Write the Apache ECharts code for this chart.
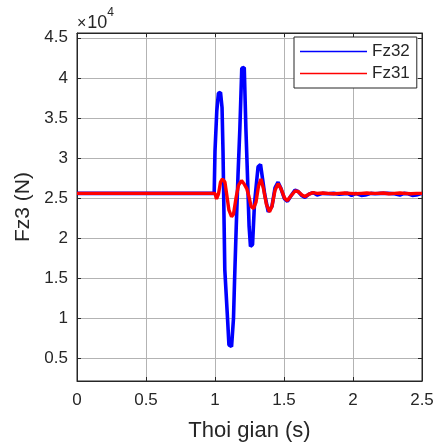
<!DOCTYPE html>
<html>
<head>
<meta charset="utf-8">
<script src="https://cdn.jsdelivr.net/npm/echarts@6/dist/echarts.min.js"></script>
<style>
  html, body { margin: 0; padding: 0; background: #fff; }
  #chart { width: 440px; height: 447px; }
</style>
</head>
<body>
<div id="chart"></div>
<script>
// Vertical wheel force on axle 3 (N) versus time (s)
const timeFz32 = [0, 0.994, 1.000, 1.013, 1.025, 1.040, 1.051, 1.058, 1.071, 1.091, 1.101, 1.120, 1.134, 1.142, 1.154, 1.167, 1.180, 1.194, 1.212, 1.224, 1.235, 1.247, 1.257, 1.272, 1.286, 1.312, 1.330, 1.344, 1.360, 1.386, 1.413, 1.435, 1.457, 1.478, 1.504, 1.525, 1.551, 1.580, 1.601, 1.630, 1.652, 1.681, 1.710, 1.74, 1.78, 1.82, 1.86, 1.90, 1.96, 1.99, 2.02, 2.06, 2.09, 2.13, 2.16, 2.20, 2.25, 2.30, 2.34, 2.37, 2.40, 2.43, 2.46, 2.50];
const valFz32 = [25600, 25600, 30900, 35900, 38100, 38200, 36300, 30900, 16100, 9950, 6700, 6500, 10000, 14900, 21500, 28000, 33600, 41200, 41300, 33600, 28000, 21500, 19000, 19200, 24300, 28900, 29200, 27500, 25500, 23300, 24000, 26300, 27000, 26200, 24900, 24600, 25300, 26000, 25850, 25300, 25100, 25500, 25700, 25400, 25600, 25550, 25600, 25500, 25600, 25350, 25600, 25350, 25400, 25600, 25550, 25600, 25600, 25550, 25400, 25600, 25550, 25350, 25400, 25600];

const timeFz31 = [0, 1.000, 1.011, 1.025, 1.040, 1.054, 1.072, 1.087, 1.101, 1.120, 1.134, 1.152, 1.170, 1.192, 1.210, 1.230, 1.246, 1.261, 1.279, 1.297, 1.315, 1.333, 1.351, 1.373, 1.395, 1.413, 1.435, 1.457, 1.478, 1.504, 1.525, 1.551, 1.580, 1.601, 1.630, 1.652, 1.681, 1.710, 1.74, 1.78, 1.82, 1.86, 1.90, 1.94, 1.98, 2.02, 2.06, 2.10, 2.14, 2.18, 2.22, 2.26, 2.30, 2.34, 2.38, 2.42, 2.46, 2.50];
const valFz31 = [25600, 25600, 24900, 25500, 27000, 27400, 27000, 25200, 23500, 22700, 23000, 25000, 26600, 27200, 26800, 26200, 25200, 24000, 23700, 24500, 26500, 27400, 26200, 24200, 23300, 24000, 26000, 26800, 26200, 25000, 24700, 25300, 25900, 25850, 25400, 25200, 25500, 25700, 25600, 25650, 25600, 25550, 25600, 25650, 25600, 25550, 25600, 25650, 25600, 25600, 25650, 25550, 25600, 25650, 25600, 25550, 25600, 25600];

const xTicks = [0, 0.5, 1, 1.5, 2, 2.5];
const yTicks = [5000, 10000, 15000, 20000, 25000, 30000, 35000, 40000, 45000];
const yMin = 2200;
const yMax = 45600;
const seriesNames = ['Fz32', 'Fz31'];

const textColor = '#262626';
const gridColor = '#b3b3b3';
const fontFamily = '"Liberation Sans", Arial, Helvetica, sans-serif';

const pairs = (ts, vs) => ts.map((t, i) => [t, vs[i]]);

const chart = echarts.init(document.getElementById('chart'), null, { renderer: 'canvas' });

const gridBox = { left: 77, right: 18, top: 33, bottom: 62 };

chart.setOption({
  animation: false,
  backgroundColor: '#fff',
  textStyle: { fontFamily: fontFamily, color: textColor },
  grid: Object.assign({ show: true, borderColor: textColor, borderWidth: 1, backgroundColor: '#fff', containLabel: false }, gridBox),
  legend: {
    show: true,
    data: seriesNames,
    orient: 'vertical',
    left: 294,
    top: 37,
    icon: 'rect',
    itemWidth: 67,
    itemHeight: 1.5,
    itemGap: 5,
    padding: [6, 7, 6, 6],
    backgroundColor: '#fff',
    borderColor: textColor,
    borderWidth: 1,
    borderRadius: 0,
    textStyle: { fontFamily: fontFamily, fontSize: 17, color: textColor, lineHeight: 17 }
  },
  xAxis: [
    {
      type: 'value',
      min: 0,
      max: 2.5,
      interval: 0.5,
      name: 'Thoi gian (s)',
      nameLocation: 'middle',
      nameGap: 39,
      nameTextStyle: { fontFamily: fontFamily, fontSize: 22, color: textColor },
      axisLine: { show: true, onZero: false, lineStyle: { color: textColor, width: 1 } },
      axisTick: { show: true, inside: true, length: 4, lineStyle: { color: textColor } },
      axisLabel: {
        show: true, margin: 11, fontSize: 17, color: textColor, fontFamily: fontFamily,
        formatter: v => String(v)
      },
      splitLine: { show: true, lineStyle: { color: gridColor, width: 1 } }
    },
    {
      type: 'value',
      position: 'top',
      min: 0,
      max: 2.5,
      interval: 0.5,
      axisLine: { show: true, onZero: false, lineStyle: { color: textColor, width: 1 } },
      axisTick: { show: true, inside: true, length: 4, lineStyle: { color: textColor } },
      axisLabel: { show: false },
      splitLine: { show: false }
    }
  ],
  yAxis: [
    {
      type: 'value',
      min: yMin,
      max: yMax,
      name: 'Fz3 (N)',
      nameLocation: 'middle',
      nameGap: 39,
      nameRotate: 90,
      nameTextStyle: { fontFamily: fontFamily, fontSize: 21, color: textColor },
      axisLine: { show: true, onZero: false, lineStyle: { color: textColor, width: 1 } },
      axisTick: { show: true, inside: true, length: 4, customValues: yTicks, lineStyle: { color: textColor } },
      axisLabel: {
        show: true, margin: 9, fontSize: 17, color: textColor, fontFamily: fontFamily,
        customValues: yTicks,
        formatter: v => String(v / 10000)
      },
      splitLine: { show: true, lineStyle: { color: gridColor, width: 1 } }
    },
    {
      type: 'value',
      position: 'right',
      min: yMin,
      max: yMax,
      axisLine: { show: true, onZero: false, lineStyle: { color: textColor, width: 1 } },
      axisTick: { show: true, inside: true, length: 4, customValues: yTicks, lineStyle: { color: textColor } },
      axisLabel: { show: false, customValues: yTicks },
      splitLine: { show: false }
    }
  ],
  graphic: [
    {
      type: 'text',
      left: 77,
      top: 7,
      style: {
        text: '{m|×}{b|10}{s|4}',
        rich: {
          m: { fontFamily: fontFamily, fontSize: 16, fill: textColor, verticalAlign: 'bottom', padding: [7, 1, 0, 0] },
          b: { fontFamily: fontFamily, fontSize: 18, fill: textColor, verticalAlign: 'bottom', padding: [7, 0, 0, 0] },
          s: { fontFamily: fontFamily, fontSize: 12, fill: textColor, verticalAlign: 'top', padding: [0, 0, 9, 0] }
        }
      }
    }
  ],
  series: [
    {
      name: seriesNames[0],
      type: 'line',
      xAxisIndex: 0,
      yAxisIndex: 0,
      data: pairs(timeFz32, valFz32),
      showSymbol: false,
      symbol: 'none',
      clip: true,
      lineStyle: { color: '#0000ff', width: 3.6 },
      itemStyle: { color: '#0000ff' },
      z: 3
    },
    {
      name: seriesNames[1],
      type: 'line',
      xAxisIndex: 0,
      yAxisIndex: 0,
      data: pairs(timeFz31, valFz31),
      showSymbol: false,
      symbol: 'none',
      clip: true,
      lineStyle: { color: '#ff0000', width: 3.4 },
      itemStyle: { color: '#ff0000' },
      z: 4
    }
  ]
});
</script>
</body>
</html>
